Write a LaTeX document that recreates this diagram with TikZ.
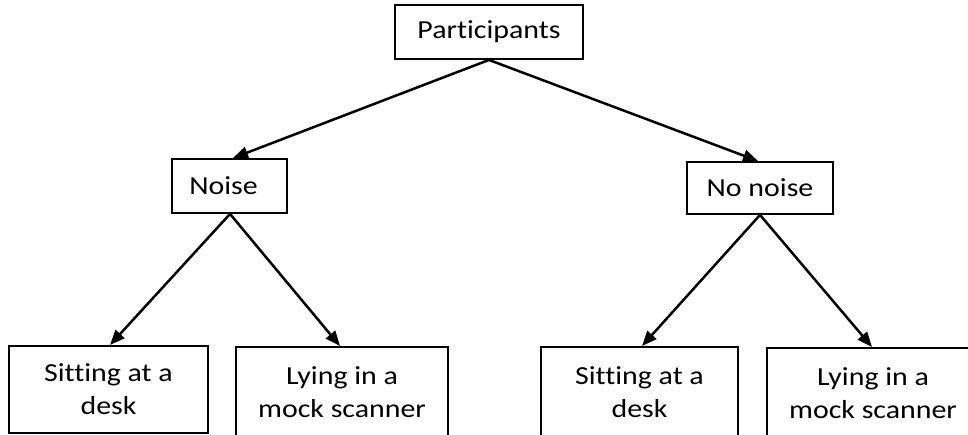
\documentclass[tikz,border=0pt]{standalone}
\usepackage{fontspec}
\setmainfont{Carlito}[FakeStretch=1.15,Ligatures=NoCommon]
\usetikzlibrary{arrows.meta,calc}
\begin{document}
\begin{tikzpicture}[x=1pt,y=1pt,
  box/.style={draw=black,line width=1.9pt,inner sep=0pt,
    font=\fontsize{26}{33}\selectfont,align=center},
  arr/.style={line width=2.5pt,-{Triangle[length=15pt,width=12pt]}}]
\useasboundingbox (0,0) rectangle (968,435);
\clip (0,0) rectangle (968,435);
\fill[white] (0,0) rectangle (968,435);
% top
\node[box,minimum width=188pt,minimum height=54pt] (P) at (489,403) {Participants};
% middle
\node[box,minimum width=115pt,minimum height=54pt] (N) at (229.5,249) {\hspace*{-12pt}Noise};
\node[box,minimum width=146pt,minimum height=52pt] (NN) at (760,247) {No noise};
% bottom
\node[box,anchor=north,minimum width=199pt,minimum height=87pt] (S1) at (108.5,90) {Sitting at a\\desk};
\node[box,anchor=north,minimum width=212pt,minimum height=91pt] (L1) at (342,89) {Lying in a\\mock scanner};
\node[box,anchor=north,minimum width=197pt,minimum height=91pt] (S2) at (639.5,89) {Sitting at a\\desk};
\node[box,anchor=north,minimum width=212pt,minimum height=91pt] (L2) at (873,88) {Lying in a\\mock scanner};
% arrows
\draw[arr] (P.south) -- ([xshift=3.5pt]N.north);
\draw[arr] (P.south) -- ([xshift=-2pt]NN.north);
\draw[arr] ([xshift=0.5pt]N.south) -- ([xshift=1.5pt]S1.north);
\draw[arr] ([xshift=0.5pt]N.south) -- ([xshift=-2pt]L1.north);
\draw[arr] (NN.south) -- ([xshift=2.5pt]S2.north);
\draw[arr] (NN.south) -- ([xshift=-1pt]L2.north);
\end{tikzpicture}
\end{document}
